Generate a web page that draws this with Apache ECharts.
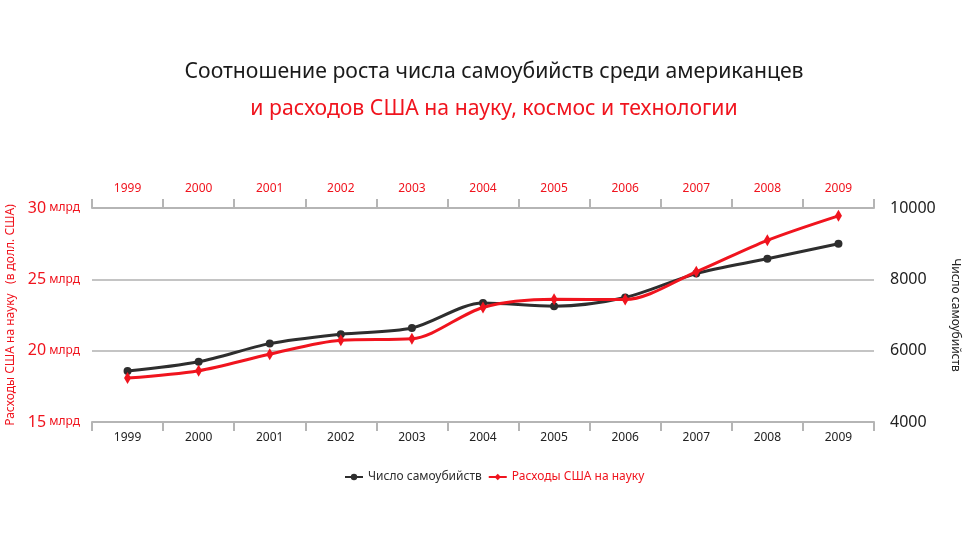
<!DOCTYPE html>
<html>
<head>
<meta charset="utf-8">
<script src="https://cdn.jsdelivr.net/npm/echarts@6/dist/echarts.min.js"></script>
<style>html,body{margin:0;padding:0;background:#fff}#c{width:965px;height:548px}</style>
</head>
<body>
<div id="c"></div>
<script>
const years = ['1999','2000','2001','2002','2003','2004','2005','2006','2007','2008','2009'];
const suicides = [5427, 5688, 6198, 6462, 6635, 7336, 7248, 7491, 8161, 8578, 9000];
const spending = [18.079, 18.594, 19.753, 20.734, 20.831, 23.029, 23.597, 23.584, 25.525, 27.731, 29.449];
const leftTicks = [15, 20, 25, 30];
const rightTicks = [4000, 6000, 8000, 10000];

const RED = '#f0141e';
const DARK = '#2e2e2e';
const FONT = 'Noto Sans';
const chart = echarts.init(document.getElementById('c'));
chart.setOption({
  backgroundColor: '#fff',
  textStyle: { fontFamily: FONT },
  title: [
    { text: 'Соотношение роста числа самоубийств среди американцев', left: 489, textAlign: 'center', top: 56,
      textStyle: { fontFamily: FONT, fontSize: 21.2, fontWeight: 'normal', color: '#1a1a1a' } },
    { text: 'и расходов США на науку, космос и технологии', left: 489, textAlign: 'center', top: 93,
      textStyle: { fontFamily: FONT, fontSize: 21.2, fontWeight: 'normal', color: RED } }
  ],
  legend: {
    top: 466, left: 339, itemGap: 6, itemWidth: 18, itemHeight: 8,
    textStyle: { fontFamily: FONT, fontSize: 12 },
    data: [
      { name: 'Число самоубийств', textStyle: { color: DARK } },
      { name: 'Расходы США на науку', textStyle: { color: RED } }
    ]
  },
  grid: { left: 92, right: 91, top: 208, bottom: 126, outerBoundsMode: 'none', containLabel: false },
  xAxis: [
    { type: 'category', data: years, position: 'bottom', boundaryGap: true,
      axisLine: { lineStyle: { color: '#b5b5b5', width: 2 } },
      axisTick: { show: true, length: 9, lineStyle: { color: '#b5b5b5', width: 2 } },
      axisLabel: { color: '#222', fontSize: 12, margin: 10, fontFamily: FONT } },
    { type: 'category', data: years, position: 'top', boundaryGap: true,
      axisLine: { lineStyle: { color: '#b5b5b5', width: 2 } },
      axisTick: { show: true, length: 9, lineStyle: { color: '#b5b5b5', width: 2 } },
      axisLabel: { color: RED, fontSize: 12, margin: 13, fontFamily: FONT } }
  ],
  yAxis: [
    { type: 'value', min: leftTicks[0], max: leftTicks[leftTicks.length-1], interval: 5, position: 'left',
      name: 'Расходы США на науку   (в долл. США)', nameLocation: 'middle', nameGap: 75, nameRotate: 90,
      nameTextStyle: { color: RED, fontSize: 12, fontFamily: FONT },
      axisLine: { show: false }, axisTick: { show: false },
      splitLine: { show: true, lineStyle: { color: '#c4c4c4', width: 2 } },
      axisLabel: { margin: 12, formatter: v => '{n|' + v + '} {u|млрд}',
        rich: { n: { color: RED, fontSize: 16, fontFamily: FONT }, u: { color: RED, fontSize: 12, fontFamily: FONT } } } },
    { type: 'value', min: rightTicks[0], max: rightTicks[rightTicks.length-1], interval: 2000, position: 'right',
      name: 'Число самоубийств', nameLocation: 'middle', nameGap: 75, nameRotate: -90,
      nameTextStyle: { color: '#222', fontSize: 12, fontFamily: FONT },
      axisLine: { show: false }, axisTick: { show: false }, splitLine: { show: false },
      axisLabel: { margin: 16, color: '#222', fontSize: 16, fontFamily: FONT, formatter: v => String(v) } }
  ],
  series: [
    { name: 'Число самоубийств', type: 'line', xAxisIndex: 0, yAxisIndex: 1, data: suicides,
      smooth: 0.3, symbol: 'circle', symbolSize: 8, z: 2,
      lineStyle: { color: DARK, width: 3 }, itemStyle: { color: DARK } },
    { name: 'Расходы США на науку', type: 'line', xAxisIndex: 0, yAxisIndex: 0, data: spending,
      smooth: 0.3, symbol: 'diamond', symbolSize: [7, 12], z: 3,
      lineStyle: { color: RED, width: 3 }, itemStyle: { color: RED } }
  ]
});
</script>
</body>
</html>
